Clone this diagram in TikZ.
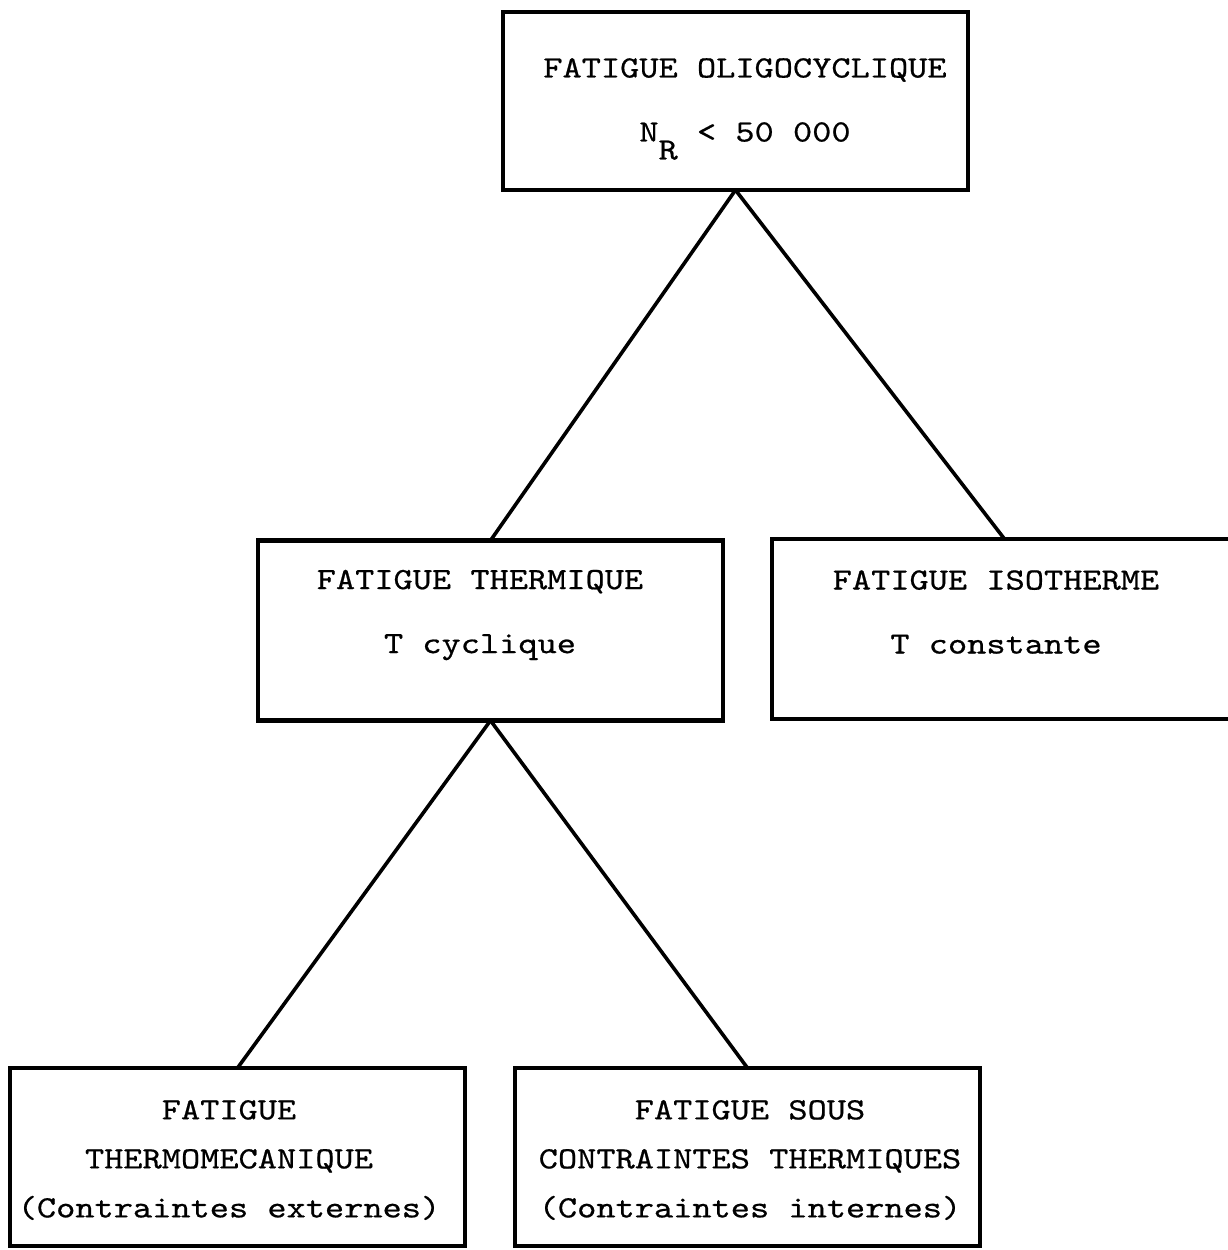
\documentclass[tikz,border=0pt]{standalone}
\usepackage{fontspec}
\newfontfamily\typew[FakeStretch=1.18,FakeBold=0.6]{lmmono10-regular.otf}
\tikzset{
  box/.style={draw,line width=2.2pt,inner sep=0pt,outer sep=0pt,
    minimum width=232.5pt,minimum height=89pt},
  txt/.style={align=center,font=\typew\fontsize{15.5}{32}\selectfont},
  txtsmall/.style={align=center,font=\typew\fontsize{15.5}{24.5}\selectfont},
  link/.style={line width=1.8pt}
}
\begin{document}
\begin{tikzpicture}[x=0.5pt,y=-0.5pt]
    \useasboundingbox (0,0) rectangle (1228,1250);

    % Top box: oligocyclic fatigue
    \node[box] (oligo) at (735.5,101) {};
    \node[txt] (oligotxt) at (745,109) {FATIGUE OLIGOCYCLIQUE\\N\raisebox{-9pt}{R} < 50 000};

    % Middle row
    \node[box,minimum height=90pt] (thermique) at (490.5,630.5) {};
    \node[txt] (thermiquetxt) at (480,615) {FATIGUE THERMIQUE\\T cyclique};

    \node[box,minimum height=90pt] (isotherme) at (1004.5,629) {};
    \node[txt] (isothermetxt) at (996,612) {FATIGUE ISOTHERME\\T constante};

    % Bottom row
    \node[box,minimum width=227.5pt] (thermomeca) at (237.5,1157) {};
    \node[txtsmall] (thermomecatxt) at (229,1160) {FATIGUE\\THERMOMECANIQUE\\(Contraintes externes)};

    \node[box] (sous) at (747.5,1157) {};
    \node[txtsmall] (soustxt) at (750,1160) {FATIGUE SOUS\\CONTRAINTES THERMIQUES\\(Contraintes internes)};

    % Tree links
    \draw[link] (oligo.south) -- (thermique.north);
    \draw[link] (oligo.south) -- (isotherme.north);
    \draw[link] (thermique.south) -- (thermomeca.north);
    \draw[link] (thermique.south) -- (sous.north);
\end{tikzpicture}
\end{document}
